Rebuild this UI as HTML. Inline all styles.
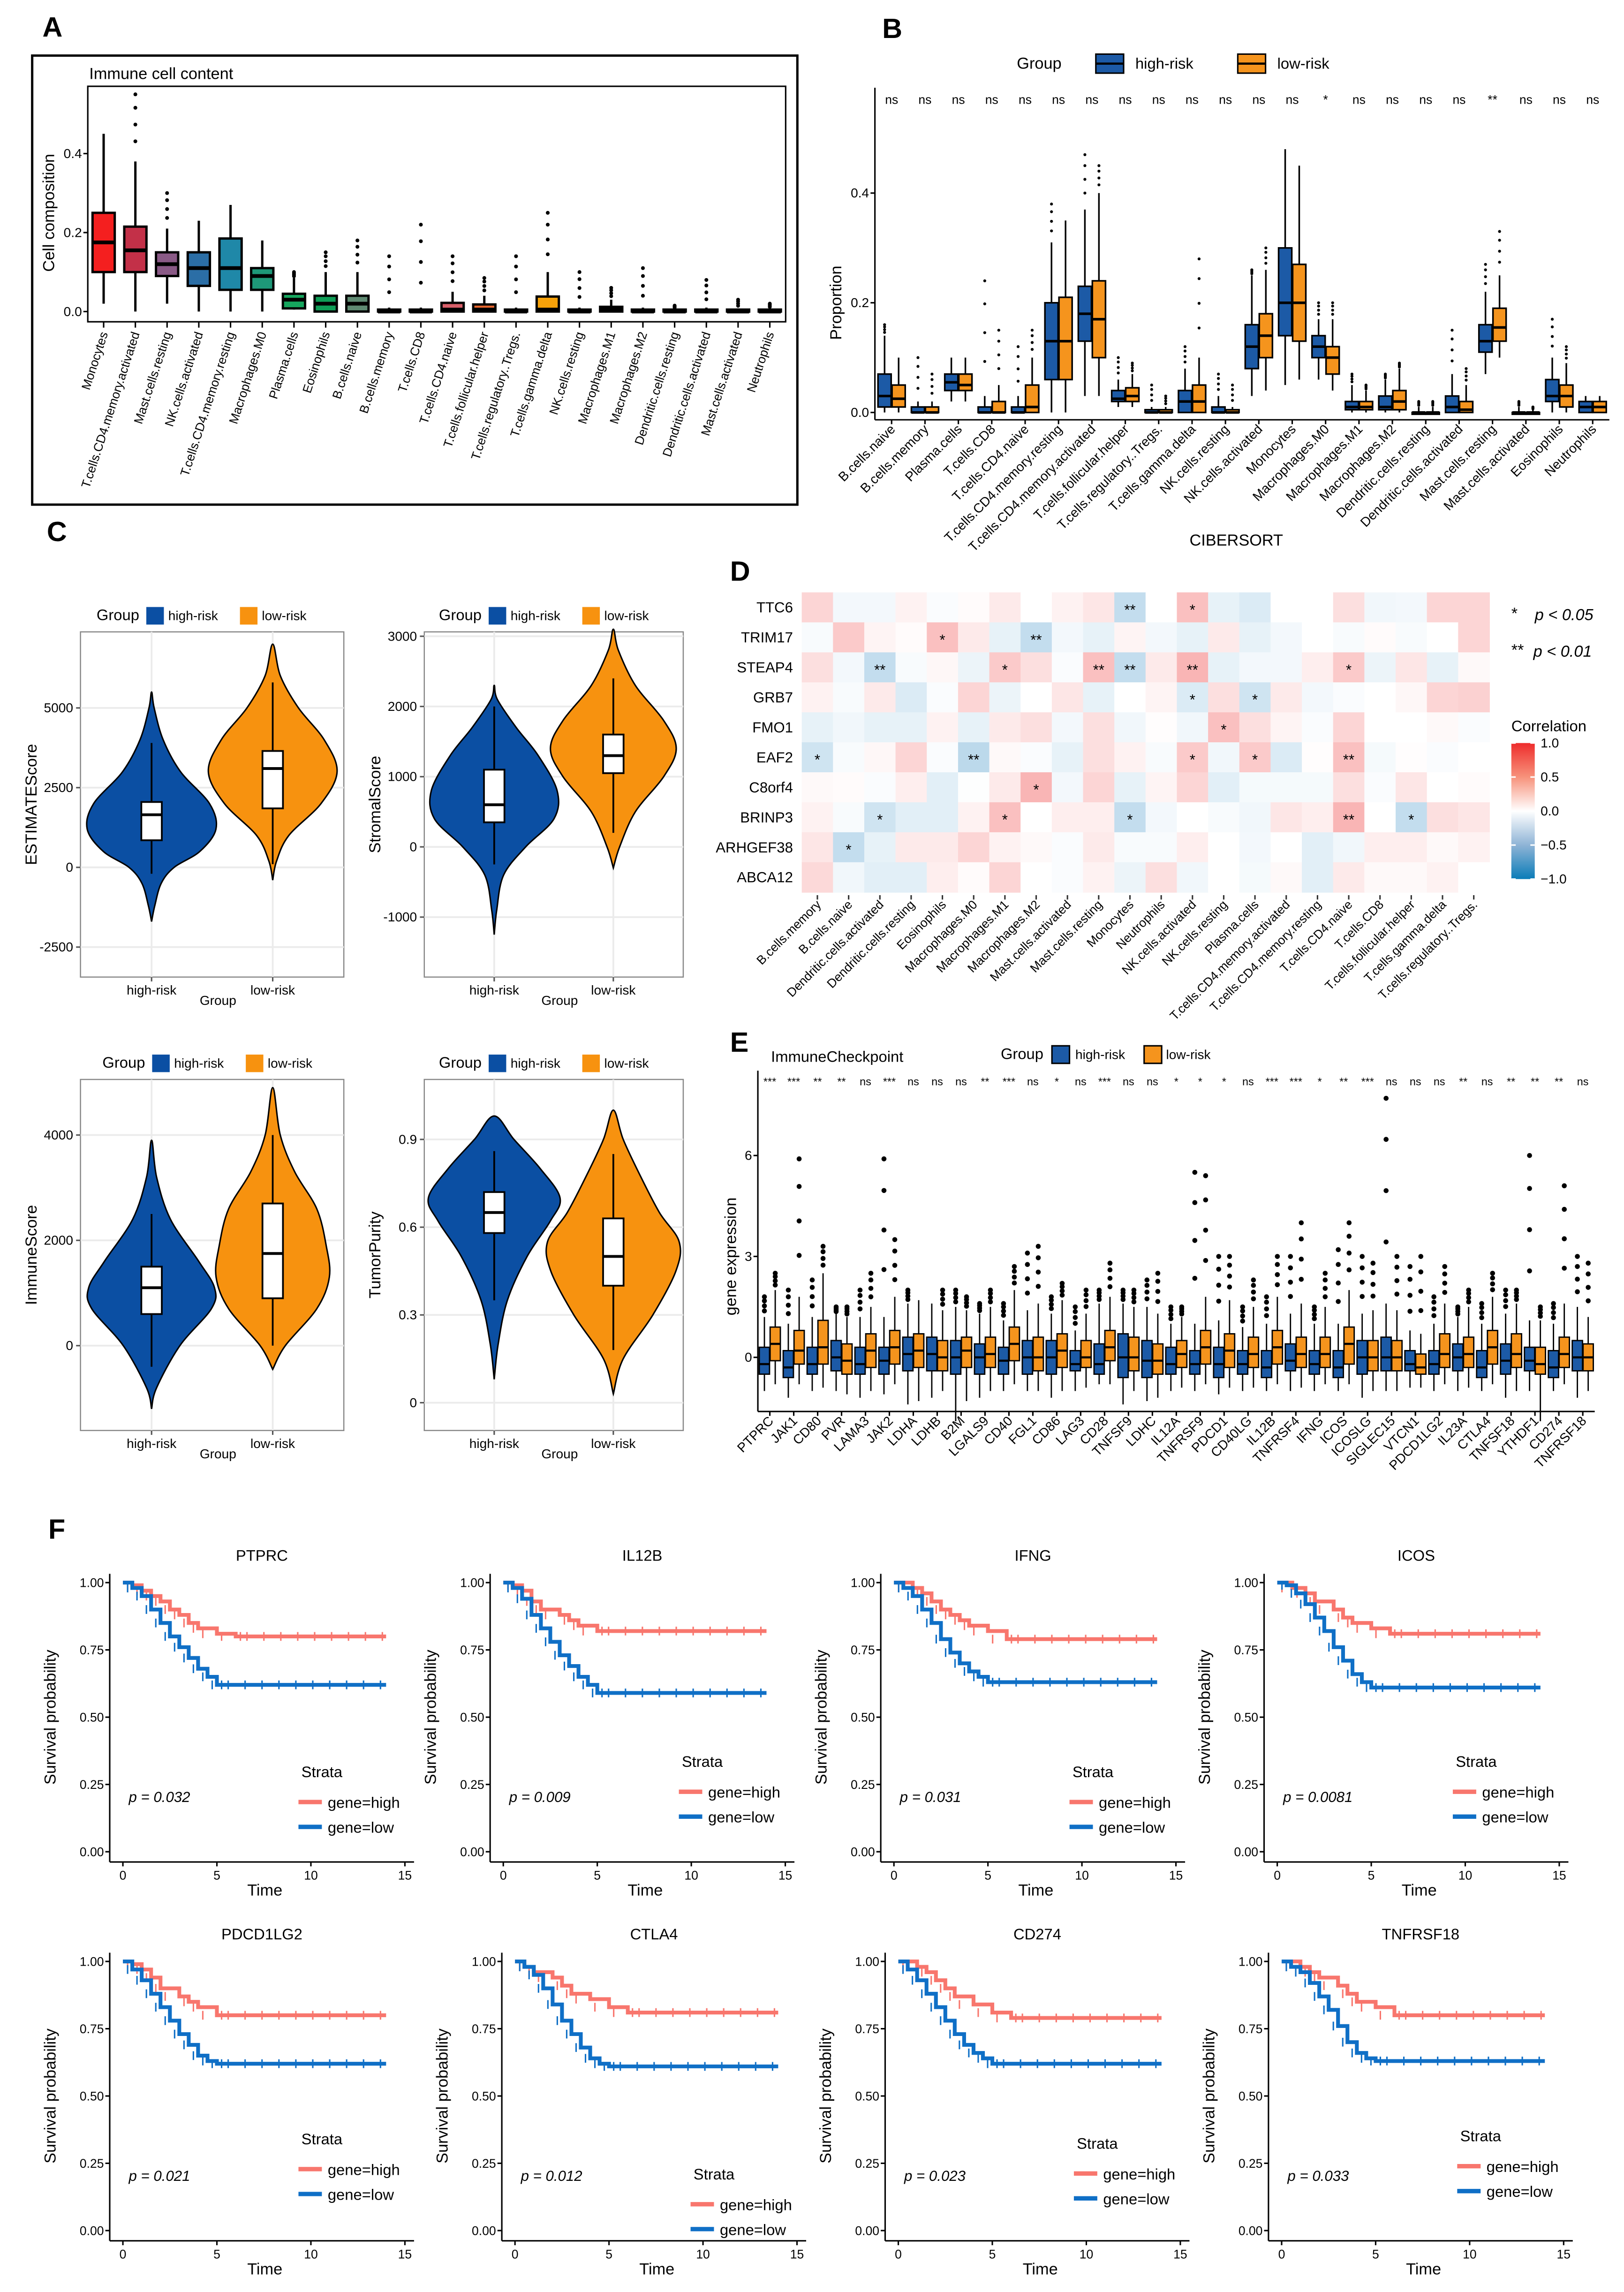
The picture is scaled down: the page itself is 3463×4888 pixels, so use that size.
<!DOCTYPE html>
<html><head><meta charset="utf-8"><style>
html,body{margin:0;padding:0;background:#fff}
svg{display:block;font-family:"Liberation Sans",Arial,sans-serif}
</style></head><body>
<svg id="fig" xmlns="http://www.w3.org/2000/svg" width="3463" height="4888" viewBox="0 0 1110 1567" preserveAspectRatio="none"></svg>
<script>
// ---------------- DATA ----------------
const catsA=["Monocytes","T.cells.CD4.memory.activated","Mast.cells.resting","NK.cells.activated","T.cells.CD4.memory.resting","Macrophages.M0","Plasma.cells","Eosinophils","B.cells.naive","B.cells.memory","T.cells.CD8","T.cells.CD4.naive","T.cells.follicular.helper","T.cells.regulatory..Tregs.","T.cells.gamma.delta","NK.cells.resting","Macrophages.M1","Macrophages.M2","Dendritic.cells.resting","Dendritic.cells.activated","Mast.cells.activated","Neutrophils"];
const statsA=[[0.02,0.1,0.175,0.25,0.45,0],[0,0.1,0.155,0.215,0.38,0.55],[0.02,0.09,0.12,0.15,0.21,0.3],[0,0.065,0.11,0.15,0.23,0],[0,0.055,0.11,0.185,0.27,0],[0,0.055,0.09,0.11,0.18,0],[0.005,0.008,0.03,0.045,0.085,0.1],[0,0,0.02,0.04,0.1,0.15],[0,0,0.02,0.04,0.1,0.18],[0,0,0,0.005,0.01,0.14],[0,0,0,0.005,0.01,0.22],[0,0,0.005,0.022,0.05,0.14],[0,0,0.005,0.018,0.04,0.085],[0,0,0,0.005,0.01,0.14],[0,0,0.005,0.038,0.1,0.25],[0,0,0,0.005,0.01,0.1],[0,0,0.005,0.012,0.03,0.06],[0,0,0,0.005,0.01,0.11],[0,0,0,0.005,0.008,0.015],[0,0,0,0.005,0.01,0.08],[0,0,0,0.005,0.008,0.03],[0,0,0,0.005,0.008,0.02]];
const colorsA=["#f41f1f","#c33048","#8a5a86","#2b6ea6","#1f88a8","#1e9878","#16a65e","#0f9d56","#5f8a72","#333","#333","#d9606a","#e8662e","#333","#f7a20a","#333","#333","#333","#333","#333","#333","#333"];
const ticksA=[0,0.2,0.4];

const catsB=["B.cells.naive","B.cells.memory","Plasma.cells","T.cells.CD8","T.cells.CD4.naive","T.cells.CD4.memory.resting","T.cells.CD4.memory.activated","T.cells.follicular.helper","T.cells.regulatory..Tregs.","T.cells.gamma.delta","NK.cells.resting","NK.cells.activated","Monocytes","Macrophages.M0","Macrophages.M1","Macrophages.M2","Dendritic.cells.resting","Dendritic.cells.activated","Mast.cells.resting","Mast.cells.activated","Eosinophils","Neutrophils"];
const hiB=[[0,0.01,0.03,0.07,0.14,0.16],[0,0,0,0.01,0.02,0.1],[0.02,0.04,0.055,0.07,0.1,0],[0,0,0,0.01,0.03,0.24],[0,0,0,0.01,0.03,0.12],[0,0.06,0.13,0.2,0.31,0.38],[0.03,0.13,0.18,0.23,0.37,0.47],[0.01,0.02,0.025,0.04,0.06,0.1],[0,0,0,0.005,0.01,0.05],[0,0,0.02,0.04,0.08,0.12],[0,0,0,0.01,0.03,0.07],[0.03,0.08,0.12,0.16,0.25,0.26],[0.05,0.14,0.2,0.3,0.48,0],[0.06,0.1,0.12,0.14,0.17,0.2],[0,0.005,0.01,0.02,0.05,0.07],[0,0.005,0.01,0.03,0.06,0.07],[0,0,0,0,0.01,0.02],[0,0,0.01,0.03,0.07,0.15],[0.07,0.11,0.13,0.16,0.22,0.27],[0,0,0,0,0.01,0.02],[0,0.02,0.03,0.06,0.1,0.17],[0,0,0.01,0.02,0.03,0]];
const loB=[[0,0.01,0.025,0.05,0.1,0],[0,0,0,0.01,0.02,0.07],[0.02,0.04,0.05,0.07,0.1,0],[0,0,0,0.02,0.05,0.15],[0,0,0.01,0.05,0.1,0.15],[0,0.06,0.13,0.21,0.35,0],[0.03,0.1,0.17,0.24,0.4,0.45],[0.01,0.02,0.03,0.045,0.07,0.09],[0,0,0,0.005,0.01,0.03],[0,0,0.02,0.05,0.1,0.28],[0,0,0,0.005,0.01,0.05],[0.04,0.1,0.14,0.18,0.26,0.3],[0.06,0.13,0.2,0.27,0.45,0],[0.04,0.07,0.1,0.12,0.17,0.2],[0,0.005,0.01,0.02,0.04,0.05],[0,0.005,0.02,0.04,0.08,0.09],[0,0,0,0,0.01,0.02],[0,0,0.005,0.02,0.05,0.08],[0.1,0.13,0.155,0.19,0.25,0.33],[0,0,0,0,0.005,0.01],[0,0.01,0.03,0.05,0.09,0.12],[0,0,0.01,0.02,0.03,0]];
const sigB=["ns","ns","ns","ns","ns","ns","ns","ns","ns","ns","ns","ns","ns","*","ns","ns","ns","ns","**","ns","ns","ns"];
const ticksB=[0,0.2,0.4];

// violins: [value, relative density]
const vHi1=[[-1700,0],[-1200,0.05],[-500,0.15],[0,0.35],[500,0.75],[1200,1],[2000,0.9],[3000,0.45],[4000,0.18],[5000,0.04],[5500,0]];
const vLo1=[[-400,0],[200,0.06],[1000,0.25],[2000,0.75],[3000,1],[4000,0.8],[5000,0.4],[6000,0.12],[7000,0]];
const bHi1=[-200,850,1650,2050,3900], bLo1=[100,1850,3100,3650,5800];
const vHi2=[[-1250,0],[-900,0.04],[-400,0.15],[0,0.5],[400,0.95],[800,1],[1300,0.7],[1700,0.35],[2100,0.05],[2300,0]];
const vLo2=[[-300,0],[0,0.1],[500,0.35],[1000,0.8],[1400,1],[1800,0.8],[2300,0.35],[2800,0.08],[3100,0]];
const bHi2=[-250,350,600,1100,2000], bLo2=[200,1050,1300,1600,2400];
const vHi3=[[-1200,0],[-800,0.08],[0,0.45],[700,0.95],[1100,1],[1600,0.75],[2400,0.3],[3200,0.08],[3900,0]];
const vLo3=[[-450,0],[0,0.2],[700,0.7],[1300,0.9],[1900,0.85],[2600,0.7],[3300,0.35],[4000,0.12],[4900,0]];
const bHi3=[-400,600,1100,1500,2500], bLo3=[0,900,1750,2700,4000];
const vHi4=[[0.08,0],[0.2,0.06],[0.35,0.2],[0.5,0.5],[0.62,0.85],[0.7,1],[0.8,0.7],[0.9,0.3],[0.98,0]];
const vLo4=[[0.03,0],[0.15,0.15],[0.3,0.6],[0.45,0.95],[0.55,1],[0.65,0.7],[0.78,0.4],[0.9,0.15],[1.0,0]];
const bHi4=[0.35,0.58,0.65,0.72,0.86], bLo4=[0.18,0.4,0.5,0.63,0.85];

const rowsD=["TTC6","TRIM17","STEAP4","GRB7","FMO1","EAF2","C8orf4","BRINP3","ARHGEF38","ABCA12"];
const colsD=["B.cells.memory","B.cells.naive","Dendritic.cells.activated","Dendritic.cells.resting","Eosinophils","Macrophages.M0","Macrophages.M1","Macrophages.M2","Mast.cells.activated","Mast.cells.resting","Monocytes","Neutrophils","NK.cells.activated","NK.cells.resting","Plasma.cells","T.cells.CD4.memory.activated","T.cells.CD4.memory.resting","T.cells.CD4.naive","T.cells.CD8","T.cells.follicular.helper","T.cells.gamma.delta","T.cells.regulatory..Tregs."];
const corD=[
[0.2,-0.05,-0.05,0.06,-0.02,0.02,0.1,0,0.06,0.12,-0.25,0,0.3,-0.1,-0.15,0,0,0.15,-0.06,-0.05,0.2,0.2],
[-0.03,0.25,0.05,0.02,0.3,0.1,-0.1,-0.25,-0.05,-0.1,0.05,-0.05,-0.1,0.1,-0.1,-0.05,0,-0.03,0.02,-0.03,0,0.2],
[0.15,-0.05,-0.25,-0.03,0.04,-0.08,0.25,0.15,-0.02,0.3,-0.25,0.1,0.35,-0.1,-0.05,-0.05,0.08,0.25,-0.08,0.12,-0.1,0.03],
[0.06,-0.03,0.1,-0.15,-0.02,0.2,-0.08,0,0.12,-0.1,0,0.05,-0.15,0.15,-0.2,0.1,-0.05,-0.02,0,0.04,0.2,0.22],
[-0.1,-0.06,-0.1,-0.1,0.06,-0.1,0.1,0.15,-0.05,0.15,-0.06,0.01,-0.06,0.3,0.15,0.05,-0.02,0.2,0,0,0.03,-0.02],
[-0.2,-0.03,0.04,0.2,-0.02,-0.28,0.03,-0.02,-0.1,0.15,0.06,-0.03,0.25,-0.06,0.25,-0.15,0.01,0.3,-0.04,0.01,-0.02,0],
[0.03,0.02,-0.02,0.08,-0.12,-0.01,0.1,0.35,-0.05,0.2,-0.1,0.05,0.2,-0.12,-0.04,-0.04,-0.04,0.15,-0.02,0.12,0,0.02],
[0.06,-0.03,-0.2,-0.12,-0.12,0.06,0.3,0,0.08,0.08,-0.25,-0.05,0,-0.03,-0.06,0.12,0.08,0.35,0,-0.25,0.15,0.12],
[0.12,-0.25,-0.1,0.1,0.1,0.2,0.06,0.03,-0.02,0.1,-0.03,-0.03,0.08,0,-0.05,0,-0.12,-0.06,0.08,0.08,0.03,0.06],
[0.18,-0.06,-0.12,-0.12,0.08,0.02,0.2,0,-0.02,0.06,-0.08,0.15,-0.06,0,-0.04,0.03,-0.12,0.1,0.03,0.03,0.06,0]];
const starsD=[[0,10,"**"],[0,12,"*"],[1,4,"*"],[1,7,"**"],[2,2,"**"],[2,6,"*"],[2,9,"**"],[2,10,"**"],[2,12,"**"],[2,17,"*"],[3,12,"*"],[3,14,"*"],[4,13,"*"],[5,0,"*"],[5,5,"**"],[5,12,"*"],[5,14,"*"],[5,17,"**"],[6,7,"*"],[7,2,"*"],[7,6,"*"],[7,10,"*"],[7,17,"**"],[7,19,"*"],[8,1,"*"]];

const genesE=["PTPRC","JAK1","CD80","PVR","LAMA3","JAK2","LDHA","LDHB","B2M","LGALS9","CD40","FGL1","CD86","LAG3","CD28","TNFSF9","LDHC","IL12A","TNFRSF9","PDCD1","CD40LG","IL12B","TNFRSF4","IFNG","ICOS","ICOSLG","SIGLEC15","VTCN1","PDCD1LG2","IL23A","CTLA4","TNFSF18","YTHDF1","CD274","TNFRSF18"];
const hiE=[[-1,-0.5,-0.2,0.3,1.2,1.8],[-1.2,-0.6,-0.3,0.2,1,2],[-1,-0.5,-0.2,0.3,1.2,2.3],[-1,-0.4,0,0.5,1.3,1.5],[-1.2,-0.5,-0.2,0.3,1.2,2],[-1.1,-0.5,-0.1,0.3,1.2,5.9],[-1.4,-0.4,0.1,0.6,1.6,2],[-1.2,-0.4,0.1,0.6,1.6,0],[-1.9,-0.5,0,0.5,1.5,2],[-1.2,-0.5,0,0.4,1.3,1.6],[-1,-0.5,-0.1,0.3,1.1,1.6],[-1,-0.5,0,0.5,1.4,3.1],[-1.2,-0.5,0,0.5,1.3,1.8],[-1,-0.4,-0.2,0.2,0.8,1.5],[-0.8,-0.5,-0.2,0.4,1.6,2],[-1.4,-0.6,0,0.7,1.6,2],[-1.3,-0.6,-0.1,0.5,1.5,2.3],[-1,-0.5,-0.2,0.3,1,1.5],[-1,-0.5,-0.2,0.2,1,5.5],[-1.1,-0.6,-0.2,0.3,1.1,3],[-1,-0.5,-0.2,0.2,0.9,1.5],[-1,-0.6,-0.3,0.2,1,1.8],[-1,-0.4,-0.1,0.4,1.3,3],[-1,-0.5,-0.2,0.2,1,1.5],[-1,-0.6,-0.3,0.2,1,3.2],[-1.2,-0.5,0,0.5,1.3,3],[-1,-0.4,0,0.6,1.6,7.7],[-0.9,-0.4,-0.2,0.2,0.8,2.7],[-1,-0.5,-0.2,0.2,1,1.8],[-1,-0.4,0,0.4,1.2,1.5],[-1,-0.6,-0.3,0.2,1,1.6],[-1.2,-0.5,-0.1,0.4,1.3,2],[-1,-0.4,-0.1,0.3,1.1,6],[-1,-0.6,-0.3,0.2,1,1.6],[-1.2,-0.4,0,0.5,1.5,3]];
const loE=[[-0.8,-0.1,0.4,0.9,2,2.5],[-0.8,-0.2,0.2,0.8,1.8,5.9],[-0.9,-0.2,0.3,1.1,2.5,3.3],[-1.1,-0.5,-0.1,0.4,1.2,1.5],[-1,-0.3,0.2,0.7,1.5,2.5],[-0.8,-0.2,0.3,0.8,1.8,3.5],[-1.3,-0.3,0.2,0.7,1.7,0],[-1,-0.4,0,0.5,1.4,2],[-1.3,-0.3,0.2,0.6,1.4,1.8],[-1,-0.3,0.1,0.6,1.5,2],[-0.8,-0.1,0.4,0.9,2,2.7],[-1,-0.4,0,0.6,1.6,3.3],[-1,-0.3,0.2,0.7,1.7,2.2],[-0.9,-0.3,0,0.5,1.3,2],[-0.8,-0.1,0.3,0.8,1.8,2.8],[-1,-0.4,0,0.6,1.5,2],[-1.2,-0.5,-0.1,0.4,1.3,2.5],[-0.9,-0.3,0.1,0.5,1.2,1.5],[-0.8,-0.2,0.3,0.8,1.8,5.4],[-0.9,-0.3,0.2,0.7,1.7,3],[-0.9,-0.3,0.1,0.6,1.5,2.3],[-0.8,-0.2,0.3,0.8,1.8,3],[-0.9,-0.3,0.1,0.6,1.6,4],[-0.8,-0.3,0.1,0.6,1.5,2.5],[-0.8,-0.2,0.4,0.9,2,4],[-1,-0.4,0,0.5,1.4,2.8],[-1,-0.4,0,0.5,1.4,3],[-0.9,-0.5,-0.3,0.1,0.7,3],[-0.8,-0.3,0.1,0.7,1.6,2.7],[-0.9,-0.3,0.1,0.6,1.5,2],[-0.8,-0.2,0.3,0.8,1.8,2.5],[-1,-0.3,0.1,0.7,1.6,2],[-1.9,-0.5,-0.2,0.3,1.1,1.5],[-0.8,-0.3,0.1,0.6,1.6,5.1],[-1,-0.4,0,0.4,1.2,2.8]];
const sigE=["***","***","**","**","ns","***","ns","ns","ns","**","***","ns","*","ns","***","ns","ns","*","*","*","ns","***","***","*","**","***","ns","ns","ns","**","ns","**","**","**","ns"];
const ticksE=[0,3,6];

const kmGenes=["PTPRC","IL12B","IFNG","ICOS","PDCD1LG2","CTLA4","CD274","TNFRSF18"];
const kmP=["p = 0.032","p = 0.009","p = 0.031","p = 0.0081","p = 0.021","p = 0.012","p = 0.023","p = 0.033"];
const kmHiT=[[0,0.5,1,1.5,2,2.5,3,3.5,4,5,6,14],[0,0.5,1,1.5,2,3,3.5,4,5,14],[0,1,1.5,2,2.5,3,3.5,4,5,6,14],[0,0.8,1.5,2,3,3.5,4,5,6,14],[0,0.5,1,1.5,2,3,3.5,4,5,14],[0,0.5,1,2,2.5,3,4,5,6,14],[0,1,1.5,2,2.5,3,4,5,6,14],[0,1,1.5,2,3,3.5,4,5,6,14]];
const kmHiS=[[1,0.99,0.97,0.95,0.93,0.9,0.88,0.85,0.83,0.81,0.8,0.8],[1,0.99,0.97,0.93,0.9,0.88,0.86,0.84,0.82,0.82],[1,0.98,0.96,0.93,0.9,0.88,0.86,0.84,0.82,0.79,0.79],[1,0.98,0.96,0.93,0.9,0.87,0.85,0.83,0.81,0.81],[1,0.99,0.97,0.94,0.9,0.87,0.85,0.83,0.8,0.8],[1,0.98,0.96,0.94,0.91,0.88,0.86,0.83,0.81,0.81],[1,0.98,0.96,0.93,0.9,0.87,0.84,0.81,0.79,0.79],[1,0.98,0.96,0.94,0.91,0.88,0.85,0.83,0.8,0.8]];
const kmLoT=[[0,0.5,1,1.5,2,2.5,3,3.5,4,4.5,5,14],[0,0.5,1,1.5,2,2.5,3,3.5,4,4.5,5,14],[0,0.5,1,1.5,2,2.5,3,3.5,4,4.5,5,14],[0,0.5,1,1.5,2,2.5,3,3.5,4,4.5,5,14],[0,0.5,1,1.5,2,2.5,3,3.5,4,4.5,5,14],[0,0.5,1,1.5,2,2.5,3,3.5,4,4.5,5,14],[0,0.5,1,1.5,2,2.5,3,3.5,4,4.5,5,14],[0,0.5,1,1.5,2,2.5,3,3.5,4,4.5,5,14]];
const kmLoS=[[1,0.98,0.95,0.9,0.85,0.8,0.76,0.72,0.68,0.65,0.62,0.62],[1,0.98,0.94,0.88,0.83,0.78,0.73,0.69,0.65,0.62,0.59,0.59],[1,0.98,0.95,0.9,0.85,0.79,0.74,0.7,0.67,0.65,0.63,0.63],[1,0.99,0.96,0.92,0.87,0.82,0.76,0.71,0.66,0.63,0.61,0.61],[1,0.97,0.93,0.88,0.83,0.78,0.73,0.69,0.65,0.63,0.62,0.62],[1,0.98,0.95,0.9,0.84,0.78,0.73,0.68,0.64,0.62,0.61,0.61],[1,0.97,0.93,0.88,0.83,0.78,0.73,0.69,0.66,0.64,0.62,0.62],[1,0.98,0.96,0.92,0.87,0.82,0.76,0.7,0.66,0.64,0.63,0.63]];
const kmTicksY=[0,0.25,0.5,0.75,1];
const kmTicksX=[0,5,10,15];

// ---------------- HELPERS ----------------
const NS='http://www.w3.org/2000/svg';
const svg=document.getElementById('fig');
function mk(tag,attrs,parent){const e=document.createElementNS(NS,tag);for(const k in attrs)e.setAttribute(k,attrs[k]);(parent||svg).appendChild(e);return e;}
function txt(x,y,s,attrs,parent){const e=mk('text',Object.assign({x:x,y:y},attrs||{}),parent);e.textContent=s;return e;}
function grp(name,parent){const g=mk('g',{},parent);


return g;}
function smooth(p){let d='M'+p[0][0].toFixed(2)+','+p[0][1].toFixed(2);for(let i=0;i<p.length-1;i++){const p0=p[i-1]||p[i],p1=p[i],p2=p[i+1],p3=p[i+2]||p2;const c1=[p1[0]+(p2[0]-p0[0])/6,p1[1]+(p2[1]-p0[1])/6],c2=[p2[0]-(p3[0]-p1[0])/6,p2[1]-(p3[1]-p1[1])/6];d+=` C${c1[0].toFixed(2)},${c1[1].toFixed(2)} ${c2[0].toFixed(2)},${c2[1].toFixed(2)} ${p2[0].toFixed(2)},${p2[1].toFixed(2)}`;}return d;}
function drawBox(g,cx,w,s,ys,fill,sw,outR){
 const wl=mk('line',{x1:cx,x2:cx,y1:ys(s[0]),y2:ys(s[4]),stroke:'#000','stroke-width':sw},g);
 
 
 const top=ys(s[3]),bot=ys(s[1]);
 const r=mk('rect',{x:cx-w/2,y:top,width:w,height:Math.max(bot-top,1.2),fill:fill,stroke:'#000','stroke-width':sw},g);
 
 
 const m=mk('line',{x1:cx-w/2,x2:cx+w/2,y1:ys(s[2]),y2:ys(s[2]),stroke:'#000','stroke-width':sw*1.6},g);
 
 
 if(s[5]&&s[5]>s[4]){[0.3,0.55,0.8,1].forEach(f=>{const c=mk('circle',{cx:cx,cy:ys(s[4]+(s[5]-s[4])*f),r:outR,fill:'#000'},g);
 
 });}
}
function letter(x,y,s){const t=txt(x,y,s,{'font-size':19,'font-weight':'bold'});

}

// ---------------- PANEL A ----------------
(function(){
 const g=grp('panel-a');
 const border=mk('rect',{x:22,y:38,width:523,height:307,fill:'none',stroke:'#000','stroke-width':1.6},g);
 
 
 const x0=60,x1=537,yTop=59,yBot=220;
 const ys=v=>213-v*270;
 const step=(x1-x0)/catsA.length;
 const t=txt(61,54,'Immune cell content',{'font-size':11},g);
 
 
 const fr=mk('rect',{x:x0,y:yTop,width:x1-x0,height:yBot-yTop,fill:'none',stroke:'#000','stroke-width':1},g);
 
 
 ticksA.forEach(v=>{mk('line',{x1:x0-3,x2:x0,y1:ys(v),y2:ys(v),stroke:'#000'},g);
 const tl=txt(x0-4,ys(v)+3,v.toFixed(1),{'font-size':9,'text-anchor':'end'},g);
 
 });
 const yl=txt(0,0,'Cell composition',{'font-size':11,'text-anchor':'middle',transform:`translate(37,${ys(0.25)}) rotate(-90)`},g);
 
 
 catsA.forEach((c,i)=>{const cx=x0+step*(i+0.5);
  const bg=grp('box-'+c,g);
  drawBox(bg,cx,step*0.7,statsA[i],ys,colorsA[i],1.6,1.3);
  mk('line',{x1:cx,x2:cx,y1:yBot,y2:yBot+4,stroke:'#000'},g);
  const l=txt(0,0,c,{'font-size':8.5,'text-anchor':'end',transform:`translate(${cx+3},${yBot+8}) rotate(-72)`},g);
  
  });
})();
letter(29,25,'A');

// ---------------- PANEL B ----------------
(function(){
 const g=grp('panel-b');
 const x0=598,x1=1100,yBot=287;
 const ys=v=>282-v*375;
 const step=(x1-x0)/catsB.length;
 mk('line',{x1:x0,x2:x0,y1:60,y2:yBot,stroke:'#000'},g);
 mk('line',{x1:x0,x2:x1,y1:yBot,y2:yBot,stroke:'#000'},g);
 ticksB.forEach(v=>{mk('line',{x1:x0-3,x2:x0,y1:ys(v),y2:ys(v),stroke:'#000'},g);
 const tl=txt(x0-4,ys(v)+3,v.toFixed(1),{'font-size':9,'text-anchor':'end'},g);
 
 });
 const yl=txt(0,0,'Proportion',{'font-size':11,'text-anchor':'middle',transform:`translate(575,${ys(0.2)}) rotate(-90)`},g);
 
 
 const xl=txt(845,373,'CIBERSORT',{'font-size':11,'text-anchor':'middle'},g);
 
 
 catsB.forEach((c,i)=>{const cx=x0+step*(i+0.5);
  const bg=grp('box-pair-'+c,g);
  drawBox(bg,cx-4.8,9,hiB[i],ys,'#1c5aa6',1.1,1);
  drawBox(bg,cx+4.8,9,loB[i],ys,'#f5941d',1.1,1);
  mk('line',{x1:cx,x2:cx,y1:yBot,y2:yBot+3,stroke:'#000'},g);
  const l=txt(0,0,c,{'font-size':9,'text-anchor':'end',transform:`translate(${cx+3},${yBot+7}) rotate(-45)`},g);
  
  
  const s=txt(cx,71,sigB[i],{'font-size':8.5,'text-anchor':'middle'},g);
  
  });
 const lg=grp('legend-b',g);
 txt(695,47,'Group',{'font-size':11},lg);
 const r1=mk('rect',{x:749,y:37,width:19,height:13,fill:'#1c5aa6',stroke:'#000'},lg);
 
 
 mk('line',{x1:749,x2:768,y1:43.5,y2:43.5,stroke:'#000','stroke-width':1.5},lg);
 txt(776,47,'high-risk',{'font-size':10.5},lg);
 const r2=mk('rect',{x:846,y:37,width:19,height:13,fill:'#f5941d',stroke:'#000'},lg);
 
 
 mk('line',{x1:846,x2:865,y1:43.5,y2:43.5,stroke:'#000','stroke-width':1.5},lg);
 txt(873,47,'low-risk',{'font-size':10.5},lg);
})();
letter(603,26,'B');

// ---------------- PANEL C ----------------
function violinPanel(cfg){
 const g=grp(cfg.name);
 const {x0,x1,y0,y1,ys}=cfg;
 const bg=mk('rect',{x:x0,y:y0,width:x1-x0,height:y1-y0,fill:'#fff',stroke:'#888','stroke-width':0.8},g);
 
 
 const cxH=x0+(x1-x0)*0.27,cxL=x0+(x1-x0)*0.73;
 [cxH,cxL].forEach(cx=>mk('line',{x1:cx,x2:cx,y1:y0,y2:y1,stroke:'#ebebeb','stroke-width':1.2},g));
 cfg.ticks.forEach(v=>{mk('line',{x1:x0,x2:x1,y1:ys(v),y2:ys(v),stroke:'#ebebeb','stroke-width':1.2},g);
  mk('line',{x1:x0-3,x2:x0,y1:ys(v),y2:ys(v),stroke:'#555'},g);
  const tl=txt(x0-5,ys(v)+3,String(v),{'font-size':9,'text-anchor':'end'},g);
  
  });
 [[cxH,cfg.vHi,cfg.bHi,'#0b4fa3','violin-high-risk'],[cxL,cfg.vLo,cfg.bLo,'#f7920f','violin-low-risk']].forEach(([cx,v,b,col,nm])=>{
  const hw=cfg.hw;
  const right=v.map(([val,d])=>[cx+d*hw,ys(val)]);
  const left=v.slice().reverse().map(([val,d])=>[cx-d*hw,ys(val)]);
  const pts=right.concat(left.slice(1));
  const p=mk('path',{d:smooth(pts)+'Z',fill:col,stroke:'#000','stroke-width':1},g);
  
  
  const bx=grp('boxplot',g);
  drawBox(bx,cx,14,b.concat([0]),ys,'#fff',1.2,1);
 });
 mk('line',{x1:cxH,x2:cxH,y1:y1,y2:y1+3,stroke:'#555'},g);
 mk('line',{x1:cxL,x2:cxL,y1:y1,y2:y1+3,stroke:'#555'},g);
 const a=txt(cxH,y1+12,'high-risk',{'font-size':9,'text-anchor':'middle'},g);
 
 
 const b2=txt(cxL,y1+12,'low-risk',{'font-size':9,'text-anchor':'middle'},g);
 
 
 const xt=txt((x0+x1)/2+4,y1+19,'Group',{'font-size':9,'text-anchor':'middle'},g);
 
 
 const yt=txt(0,0,cfg.ylab,{'font-size':11,'text-anchor':'middle',transform:`translate(${x0-30},${(y0+y1)/2}) rotate(-90)`},g);
 
 
 const lg=grp('legend',g);const lx=cfg.lx,ly=y0-12;
 txt(lx,ly+4,'Group',{'font-size':10.5},lg);
 const s1=mk('rect',{x:lx+34,y:ly-5,width:12,height:12,fill:'#0b4fa3'},lg);
 
 
 txt(lx+49,ly+4,'high-risk',{'font-size':9},lg);
 const s2=mk('rect',{x:lx+98,y:ly-5,width:12,height:12,fill:'#f7920f'},lg);
 
 
 txt(lx+113,ly+4,'low-risk',{'font-size':9},lg);
}
violinPanel({name:'violin-estimate-score',x0:55,x1:235,y0:432,y1:668,ys:v=>593-v*0.0218,ticks:[-2500,0,2500,5000],vHi:vHi1,vLo:vLo1,bHi:bHi1,bLo:bLo1,hw:44,ylab:'ESTIMATEScore',lx:66});
violinPanel({name:'violin-stromal-score',x0:290,x1:467,y0:432,y1:668,ys:v=>579-v*0.048,ticks:[-1000,0,1000,2000,3000],vHi:vHi2,vLo:vLo2,bHi:bHi2,bLo:bLo2,hw:43,ylab:'StromalScore',lx:300});
violinPanel({name:'violin-immune-score',x0:55,x1:235,y0:738,y1:978,ys:v=>920-v*0.036,ticks:[0,2000,4000],vHi:vHi3,vLo:vLo3,bHi:bHi3,bLo:bLo3,hw:43,ylab:'ImmuneScore',lx:70});
violinPanel({name:'violin-tumor-purity',x0:290,x1:467,y0:738,y1:978,ys:v=>959-v*200,ticks:[0.0,0.3,0.6,0.9],vHi:vHi4,vLo:vLo4,bHi:bHi4,bLo:bLo4,hw:45,ylab:'TumorPurity',lx:300});
letter(32,370,'C');

// ---------------- PANEL D ----------------
function corColor(v){const t=Math.min(1,Math.abs(v));let c;if(v>=0)c=[255+(238-255)*t,255+(44-255)*t,255+(44-255)*t];else c=[255+(16-255)*t,255+(120-255)*t,255+(185-255)*t];return `rgb(${c.map(Math.round).join(',')})`;}
(function(){
 const g=grp('panel-d-heatmap');
 const x0=548,x1=1018,y0=405,y1=610;
 const cw=(x1-x0)/colsD.length,rh=(y1-y0)/rowsD.length;
 corD.forEach((row,r)=>row.forEach((v,c)=>{
  const cell=mk('rect',{x:x0+c*cw,y:y0+r*rh,width:cw+0.3,height:rh+0.3,fill:corColor(v)},g);
  
  }));
 starsD.forEach(([r,c,s])=>{const t=txt(x0+(c+0.5)*cw,y0+(r+0.5)*rh+5,s,{'font-size':10,'text-anchor':'middle'},g);
  
  });
 rowsD.forEach((n,r)=>{const t=txt(x0-6,y0+(r+0.5)*rh+3.5,n,{'font-size':10,'text-anchor':'end'},g);
  
  });
 colsD.forEach((n,c)=>{const cx=x0+(c+0.5)*cw;mk('line',{x1:cx,x2:cx,y1:y1+2,y2:y1+5,stroke:'#333'},g);
  const t=txt(0,0,n,{'font-size':8.5,'text-anchor':'end',transform:`translate(${cx+3},${y1+9}) rotate(-45)`},g);
  
  });
 const lg=grp('significance-legend',g);
 txt(1033,423,'*',{'font-size':11},lg);
 txt(1049,424,'p < 0.05',{'font-size':11,'font-style':'italic'},lg);
 txt(1033,448,'**',{'font-size':11},lg);
 txt(1048,449,'p < 0.01',{'font-size':11,'font-style':'italic'},lg);
 const cb=grp('colorbar',g);
 txt(1033,500,'Correlation',{'font-size':10.5},cb);
 const defs=mk('defs',{},cb);
 const lgd=mk('linearGradient',{id:'cg',x1:0,y1:0,x2:0,y2:1},defs);
 [[0,'#ee2c2c'],[0.25,'#f7927b'],[0.5,'#ffffff'],[0.75,'#8fb4d6'],[1,'#0a7cb8']].forEach(([o,c])=>mk('stop',{offset:o,'stop-color':c},lgd));
 const bar=mk('rect',{x:1033,y:508,width:16,height:93,fill:'url(#cg)'},cb);
 
 
 [['1.0',0],['0.5',0.25],['0.0',0.5],['−0.5',0.75],['−1.0',1]].forEach(([s,f])=>{const yy=508+93*f;
  mk('line',{x1:1033,x2:1036,y1:yy,y2:yy,stroke:'#fff'},cb);mk('line',{x1:1046,x2:1049,y1:yy,y2:yy,stroke:'#fff'},cb);
  txt(1053,yy+3,s,{'font-size':9},cb);});
})();
letter(499,397,'D');

// ---------------- PANEL E ----------------
(function(){
 const g=grp('panel-e');
 const x0=518,x1=1090,yBot=965,yTop=732;
 const ys=v=>928-v*23;
 const step=(x1-x0)/genesE.length;
 mk('line',{x1:x0,x2:x0,y1:yTop,y2:yBot,stroke:'#000'},g);
 mk('line',{x1:x0,x2:x1,y1:yBot,y2:yBot,stroke:'#000'},g);
 ticksE.forEach(v=>{mk('line',{x1:x0-3,x2:x0,y1:ys(v),y2:ys(v),stroke:'#000'},g);
  const tl=txt(x0-4,ys(v)+3,String(v),{'font-size':9,'text-anchor':'end'},g);
  
  });
 const yl=txt(0,0,'gene expression',{'font-size':11,'text-anchor':'middle',transform:`translate(503,${ys(3)}) rotate(-90)`},g);
 
 
 genesE.forEach((n,i)=>{const cx=x0+step*(i+0.5);
  const bg=grp('box-pair-'+n,g);
  drawBox(bg,cx-3.7,7,hiE[i],ys,'#1c5aa6',0.9,1.7);
  drawBox(bg,cx+3.7,7,loE[i],ys,'#f5941d',0.9,1.7);
  mk('line',{x1:cx,x2:cx,y1:yBot,y2:yBot+3,stroke:'#000'},g);
  const l=txt(0,0,n,{'font-size':9,'text-anchor':'end',transform:`translate(${cx+3},${yBot+7}) rotate(-45)`},g);
  
  
  const s=txt(cx,742,sigE[i],{'font-size':7.5,'text-anchor':'middle'},g);
  
  });
 const t=txt(527,726,'ImmuneCheckpoint',{'font-size':10.5},g);
 
 
 const lg=grp('legend-e',g);
 txt(684,724,'Group',{'font-size':10.5},lg);
 const r1=mk('rect',{x:719,y:715,width:12,height:12,fill:'#1c5aa6',stroke:'#000'},lg);
 
 
 txt(735,724,'high-risk',{'font-size':9},lg);
 const r2=mk('rect',{x:782,y:715,width:12,height:12,fill:'#f5941d',stroke:'#000'},lg);
 
 
 txt(797,724,'low-risk',{'font-size':9},lg);
})();
letter(499,719,'E');

// ---------------- PANEL F ----------------
(function(){
 const xs0=[84,344,611,873,84,352,614,876];
 const yTops=[1082,1082,1082,1082,1341,1341,1341,1341];
 const legOff=[0,-7,0,-7,-8,16,-5,-10];
 kmGenes.forEach((gname,i)=>{
  const g=grp('km-plot-'+gname);
  const X0=xs0[i],Y0=yTops[i];
  const xs=t=>X0+t*12.85, ys=s=>Y0+184-s*184;
  const tt=txt(X0+95,Y0-15,gname,{'font-size':10.5,'text-anchor':'middle'},g);
  
  
  mk('line',{x1:X0-9,x2:X0-9,y1:Y0-6,y2:Y0+191,stroke:'#000'},g);
  mk('line',{x1:X0-9,x2:X0+199,y1:Y0+191,y2:Y0+191,stroke:'#000'},g);
  kmTicksY.forEach(v=>{mk('line',{x1:X0-12,x2:X0-9,y1:ys(v),y2:ys(v),stroke:'#000'},g);
   const l=txt(X0-13,ys(v)+3,v.toFixed(2),{'font-size':8.5,'text-anchor':'end'},g);
   
   });
  kmTicksX.forEach(v=>{mk('line',{x1:xs(v),x2:xs(v),y1:Y0+191,y2:Y0+194,stroke:'#000'},g);
   const l=txt(xs(v),Y0+203,String(v),{'font-size':8.5,'text-anchor':'middle'},g);
   
   });
  const yl=txt(0,0,'Survival probability',{'font-size':11,'text-anchor':'middle',transform:`translate(${X0-46},${Y0+92}) rotate(-90)`},g);
  
  
  const xl=txt(X0+97,Y0+214,'Time',{'font-size':11,'text-anchor':'middle'},g);
  
  
  [[kmHiT[i],kmHiS[i],'#f8766d','curve-gene-high'],[kmLoT[i],kmLoS[i],'#0f6fc6','curve-gene-low']].forEach(([T,S,col,nm])=>{
   let d=`M${xs(T[0])},${ys(S[0])}`;
   for(let k=1;k<T.length;k++){d+=` H${xs(T[k])} V${ys(S[k])}`;}
   const p=mk('path',{d:d,fill:'none',stroke:col,'stroke-width':2.6},g);
   
   
   const last=T.length-1;
   for(let k=0;k<T.length-1;k++){const cx=xs(T[k]+0.25);mk('line',{x1:cx,x2:cx,y1:ys(S[k+1])-3,y2:ys(S[k+1])+3,stroke:col,'stroke-width':1},g);}
   for(let t=T[last-1]+0.6;t<T[last];t+=0.9){mk('line',{x1:xs(t),x2:xs(t),y1:ys(S[last])-3,y2:ys(S[last])+3,stroke:col,'stroke-width':1},g);}
  });
  const pv=txt(X0+4,Y0+150,kmP[i],{'font-size':10,'font-style':'italic'},g);
  
  
  const lg=grp('km-legend',g);
  const LX=X0+120,LY=Y0+133+legOff[i];
  txt(LX+2,LY,'Strata',{'font-size':10.5},lg);
  mk('line',{x1:LX,x2:LX+16,y1:LY+17,y2:LY+17,stroke:'#f8766d','stroke-width':3},lg);
  txt(LX+20,LY+21,'gene=high',{'font-size':10.5},lg);
  mk('line',{x1:LX,x2:LX+16,y1:LY+34,y2:LY+34,stroke:'#0f6fc6','stroke-width':3},lg);
  txt(LX+20,LY+38,'gene=low',{'font-size':10.5},lg);
 });
})();
letter(33,1052,'F');
</script>
</body></html>
